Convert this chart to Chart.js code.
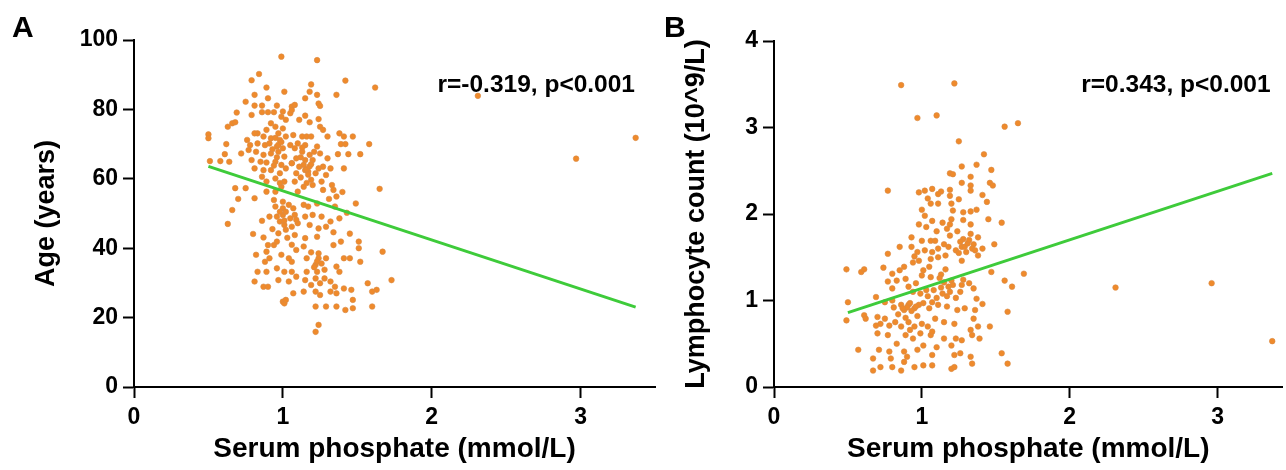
<!DOCTYPE html>
<html>
<head>
<meta charset="utf-8">
<script src="https://cdn.jsdelivr.net/npm/chart.js@4.4.1/dist/chart.umd.min.js"></script>
<style>
    html, body { margin: 0; padding: 0; background: #fff; }
    #wrap { position: relative; width: 1286px; height: 470px; overflow: hidden; }
    .panel { position: absolute; top: 0; height: 470px; }
    #pa { left: 0; width: 660px; }
    #pb { left: 660px; width: 626px; }
    .tag { position: absolute; font: bold 30px "Liberation Sans", Arial, sans-serif; line-height: 1; color: #000; }
</style>
</head>
<body>
<div id="wrap">
    <div class="panel" id="pa"><canvas id="chartA"></canvas></div>
    <div class="panel" id="pb"><canvas id="chartB"></canvas></div>
    <div class="tag" style="left:12px;top:12px">A</div>
    <div class="tag" style="left:664px;top:12px">B</div>
</div>
<script>
// Valores (fósforo sérico em mmol/L)
const xTicks = [0, 1, 2, 3];
const ageTicks = [0, 20, 40, 60, 80, 100];
const lymphTicks = [0, 1, 2, 3, 4];

// Painel A: fósforo x idade
const agePoints = [
    [0.99,95.2],[0.84,90.2],[0.79,88.4],[0.89,86.3],[0.81,84.2],[1.01,85.1],[0.90,83.2],[0.75,82.2],[0.81,81.1],[0.86,81.1],
    [0.96,81.1],[1.06,80.8],[0.69,79.1],[0.79,78.4],[0.86,79.2],[0.90,79.2],[0.94,79.2],[1.00,79.4],[0.99,77.9],[1.02,77.0],
    [1.05,78.9],[0.66,76.0],[0.68,76.3],[0.63,75.0],[0.92,76.0],[0.95,75.0],[1.00,74.5],[0.89,74.1],[0.83,73.1],[0.97,73.1],
    [0.50,72.8],[0.50,71.7],[0.81,73.1],[0.87,72.2],[0.92,71.7],[0.98,71.2],[1.02,72.2],[0.62,70.0],[0.76,71.2],[0.78,69.7],
    [0.83,70.2],[0.88,69.7],[0.91,70.2],[0.96,69.3],[1.00,68.8],[1.05,69.7],[0.72,67.3],[0.77,68.3],[0.82,67.8],[0.87,66.9],
    [0.92,67.3],[0.97,67.8],[1.01,66.4],[0.61,67.1],[0.58,65.1],[0.64,64.9],[0.51,65.1],[0.79,65.4],[0.85,64.9],[0.89,64.7],
    [0.95,64.9],[0.99,64.0],[1.06,64.5],[0.81,63.0],[0.87,62.5],[0.92,62.5],[0.98,61.6],[1.02,63.0],[0.86,60.6],[0.89,59.2],
    [0.95,60.1],[1.01,59.2],[0.68,57.3],[0.75,57.3],[0.89,56.3],[0.95,56.3],[0.99,57.7],[0.70,54.2],[0.81,54.4],[0.94,53.9],
    [1.00,53.4],
    [1.23,94.2],[1.42,88.3],[1.62,86.3],[1.36,84.2],[1.19,87.2],[1.18,85.1],[1.23,84.2],[1.15,83.2],[1.24,81.7],[1.25,81.0],
    [1.08,81.3],[1.06,79.8],[1.11,77.0],[1.15,78.2],[1.18,76.3],[1.24,77.2],[1.25,75.0],[1.27,74.1],[1.30,72.2],[1.38,73.1],
    [1.41,72.2],[1.47,72.2],[1.39,70.0],[1.42,70.0],[1.58,70.0],[1.07,72.6],[1.13,72.2],[1.16,72.2],[1.19,72.2],[1.10,70.2],
    [1.15,69.7],[1.23,69.3],[1.08,68.8],[1.13,67.8],[1.18,66.9],[1.25,67.3],[1.37,67.1],[1.44,67.1],[1.52,67.1],[1.30,65.9],
    [1.09,65.9],[1.15,65.4],[1.20,65.4],[1.06,64.5],[1.11,63.5],[1.15,62.5],[1.17,62.1],[1.27,63.5],[1.32,63.0],[1.41,63.0],
    [1.09,61.6],[1.22,61.6],[1.29,61.1],[1.08,59.2],[1.19,59.7],[1.20,58.2],[1.33,58.2],[1.14,57.7],[1.27,56.8],[1.34,56.8],
    [1.10,56.3],[1.65,57.1],[1.49,52.9],[1.36,54.9],
    [0.66,51.0],[0.63,47.0],[0.86,47.9],[0.91,49.1],[0.96,49.1],[0.98,47.7],[0.95,52.0],[1.00,51.5],[1.04,52.5],[1.00,49.6],
    [1.05,48.6],[1.01,46.7],[1.06,46.2],[0.80,44.1],[0.87,43.1],[0.97,44.3],[1.02,45.3],[0.90,40.9],[0.94,40.9],[0.82,38.1],
    [0.89,39.0],[0.96,41.9],[0.91,37.1],[0.88,36.1],[1.04,37.1],[1.06,36.1],[0.99,38.1],[0.96,34.2],[1.01,33.2],[1.06,33.2],
    [0.83,33.2],[0.89,33.2],[0.97,30.8],[1.04,30.4],[0.81,30.4],[0.87,28.9],[0.90,28.9],[1.00,24.6],[1.01,24.1],[1.02,25.1],
    [1.14,52.5],[1.07,51.5],[1.17,52.0],[1.23,52.9],[1.35,52.0],[1.08,49.6],[1.10,47.2],[1.15,49.1],[1.20,49.6],[1.26,49.1],
    [1.32,47.7],[1.38,48.6],[1.18,46.7],[1.24,45.7],[1.29,46.2],[1.08,43.8],[1.15,42.9],[1.23,43.3],[1.34,40.9],[1.39,41.9],
    [1.51,41.9],[1.51,40.0],[1.67,39.0],[1.09,39.5],[1.14,40.5],[1.24,38.5],[1.24,37.1],[1.16,37.1],[1.29,37.1],[1.41,37.1],
    [1.45,37.1],[1.52,36.1],[1.22,35.2],[1.23,33.2],[1.36,34.7],[1.38,33.2],[1.16,33.2],[1.09,31.8],[1.15,30.8],[1.22,31.3],
    [1.28,31.3],[1.32,30.4],[1.35,28.9],[1.41,28.4],[1.25,29.9],[1.57,29.9],[1.60,27.5],[1.63,28.0],[1.46,28.0],[1.07,27.0],
    [1.14,27.5],[1.22,27.5],[1.32,27.5],[1.36,27.0],[1.22,23.2],[1.29,23.2],[1.36,23.2],[1.42,22.2],[1.47,25.1],[1.47,22.7],
    [1.60,23.2],[1.24,17.9],[1.22,15.9],
    [1.73,30.8],[2.31,83.9],[2.97,65.8],[3.37,71.8],
    [1.16,62.8],[1.18,63.6],[1.17,61.2],[0.97,69.8],[0.95,71.8],[1.21,34.5],[1.23,36.2],[1.02,50.5],[1.01,48.0],[1.12,66.2],
    [1.14,64.0],[0.93,68.5],[0.96,66.2],[0.99,70.6],[0.94,63.8],[0.98,58.8],[1.12,60.4],[1.19,64.2],[1.21,67.8],[1.13,69.0],
    [1.24,63.0],[1.16,58.8],[1.26,59.2],[0.98,50.5],[1.03,43.0],[1.06,41.0],[0.93,45.5],[1.09,48.2],[1.19,38.8],[1.26,35.6],
    [1.28,33.8],[1.19,29.4],[1.25,26.5],[1.31,54.2],[1.40,56.2],[1.43,50.2],[1.34,44.6],[1.45,44.2]
];
const ageFit = [[0.5, 63.6], [3.37, 23.0]];

// Painel B: fósforo x linfócitos
const lymphPoints = [
    [0.77,2.27],[0.98,2.25],[1.02,2.27],[1.07,2.29],[1.06,2.12],[1.00,2.05],[1.07,1.92],[0.98,1.88],[1.03,1.85],[0.93,1.73],
    [1.00,1.69],[1.06,1.69],[0.85,1.62],[0.93,1.62],[0.77,1.54],[0.97,1.56],[1.02,1.58],[0.95,1.51],
    [1.25,2.84],[1.42,2.69],[1.27,2.55],[1.37,2.57],[1.47,2.51],[1.19,2.47],[1.21,2.46],[1.33,2.43],[1.27,2.36],[1.33,2.33],
    [1.33,2.27],[1.46,2.36],[1.48,2.33],[1.13,2.26],[1.11,2.23],[1.19,2.28],[1.19,2.21],[1.41,2.22],[1.25,2.17],[1.44,2.14],
    [1.11,2.12],[1.20,2.12],[1.21,2.04],[1.33,2.03],[1.37,2.05],[1.28,2.02],[1.20,1.94],[1.28,1.93],[1.45,1.94],[1.54,1.90],
    [1.14,1.90],[1.19,1.88],[1.33,1.88],[1.17,1.83],[1.24,1.80],[1.33,1.77],[1.38,1.73],[1.19,1.75],[1.09,1.69],[1.15,1.65],
    [1.28,1.71],[1.35,1.65],[1.41,1.60],[1.49,1.65],[1.11,1.60],[1.18,1.62],[1.23,1.58],[1.27,1.62],[1.30,1.56],[1.34,1.60],
    [1.07,1.56],[1.16,1.52],[1.38,1.52],
    [0.49,1.36],[0.59,1.33],[0.61,1.36],[0.74,1.38],[0.80,1.31],[0.85,1.35],[0.88,1.39],[0.94,1.44],[0.98,1.46],[1.01,1.35],
    [1.05,1.39],[0.77,1.22],[0.83,1.23],[0.89,1.25],[0.96,1.20],[1.00,1.29],[1.06,1.27],[0.80,1.14],[0.50,0.98],[0.69,1.04],
    [0.75,0.98],[0.80,1.00],[0.86,0.95],[0.88,0.89],[0.91,0.95],[0.95,0.91],[0.98,0.95],[1.01,0.97],[1.05,0.91],[0.61,0.83],
    [0.62,0.79],[0.49,0.77],[0.70,0.81],[0.75,0.79],[0.72,0.73],[0.78,0.71],[0.69,0.71],[0.82,0.75],[0.86,0.70],[0.91,0.75],
    [0.95,0.70],[1.00,0.73],[1.04,0.70],[0.70,0.62],[0.77,0.60],[0.83,0.50],[0.89,0.60],[0.94,0.56],[0.99,0.62],[1.06,0.60],
    [0.57,0.43],[0.71,0.43],[0.78,0.41],[0.88,0.41],[0.90,0.35],[0.97,0.43],[1.01,0.48],[0.67,0.33],[0.79,0.33],[0.72,0.23],
    [0.80,0.23],[0.67,0.19],[0.86,0.19],[0.95,0.23],[1.01,0.25],[0.88,0.29],
    [1.06,1.48],[1.11,1.50],[1.27,1.46],[1.47,1.33],[1.56,1.23],[1.61,1.16],[1.69,1.31],[1.15,1.21],[1.20,1.23],[1.27,1.18],
    [1.32,1.20],[1.35,1.14],[1.08,1.12],[1.14,1.08],[1.19,1.10],[1.26,1.10],[1.37,1.02],[1.41,0.96],[1.58,0.87],[1.07,0.98],
    [1.11,0.95],[1.17,0.93],[1.24,0.89],[1.29,0.91],[1.36,0.89],[1.35,0.79],[1.09,0.79],[1.15,0.75],[1.22,0.73],[1.38,0.70],
    [1.46,0.70],[1.07,0.64],[1.15,0.56],[1.23,0.56],[1.27,0.54],[1.33,0.66],[1.34,0.60],[1.39,0.56],[1.20,0.48],[1.10,0.46],
    [1.07,0.37],[1.22,0.37],[1.26,0.39],[1.33,0.35],[1.54,0.39],[1.34,0.27],[1.58,0.27],[1.07,0.25],[1.20,0.21],[1.22,0.23],
    [0.86,3.49],[1.22,3.51],[0.97,3.11],[1.10,3.14],[1.56,3.01],[1.65,3.05],[2.31,1.15],[2.96,1.20],[3.37,0.53],
    [0.90,0.92],[0.93,0.88],[0.96,0.93],[0.92,0.97],[0.87,0.91],[1.13,1.15],[1.17,1.05],[1.21,1.18],[1.29,1.62],[1.31,1.66],
    [1.26,1.68],[1.13,1.30],[1.16,1.36],[0.99,1.08],[1.03,1.12],
    [0.84,0.84],[0.89,0.80],[0.97,0.82],[0.92,0.66],[0.81,0.92],[1.12,1.26],[1.18,1.16],[1.23,1.03],[1.28,1.24],[1.10,1.03],
    [1.32,1.70],[1.25,1.55],[1.36,1.58],[0.94,1.10],[1.04,1.05],[0.91,1.16],[1.04,2.18],[1.10,1.80],[1.02,1.98]
];
const lymphFit = [[0.5, 0.86], [3.37, 2.47]];

const FONT = '"Liberation Sans", Arial, sans-serif';

// Texto com r e p no canto superior direito
const corrLabel = {
    id: 'corrLabel',
    afterDatasetsDraw(chart, args, opts) {
        const { ctx, chartArea } = chart;
        ctx.save();
        ctx.font = 'bold 24.5px ' + FONT;
        ctx.fillStyle = '#000';
        ctx.textAlign = 'right';
        ctx.textBaseline = 'middle';
        ctx.fillText(opts.text, chartArea.right - opts.dx, chartArea.top + opts.dy);
        ctx.restore();
    }
};

function toXY(list) {
    return list.map(([x, y]) => ({ x, y }));
}

function makePanel(canvasId, cfg) {
    const axisStyle = {
        grid: { display: true, drawOnChartArea: false, drawTicks: true, tickLength: 11, tickWidth: 2, tickColor: '#000' },
        border: { display: true, color: '#000', width: 2 }
    };
    return new Chart(document.getElementById(canvasId), {
        type: 'scatter',
        data: {
            datasets: [
                {
                    type: 'line',
                    data: toXY(cfg.fit),
                    borderColor: '#3ecb3a',
                    borderWidth: 3,
                    pointRadius: 0,
                    fill: false,
                    order: 0,
                    clip: false
                },
                {
                    data: toXY(cfg.points),
                    backgroundColor: '#ef8a2b',
                    borderColor: '#d98a45',
                    borderWidth: 0.6,
                    pointRadius: 2.8,
                    pointHoverRadius: 2.8,
                    order: 1,
                    clip: false
                }
            ]
        },
        options: {
            responsive: true,
            maintainAspectRatio: false,
            animation: false,
            events: [],
            layout: { padding: { left: 0, right: cfg.padRight, top: cfg.padTop, bottom: 0 } },
            plugins: {
                legend: { display: false },
                tooltip: { enabled: false },
                corrLabel: { text: cfg.label, dx: cfg.labelDx, dy: cfg.labelDy }
            },
            scales: {
                x: {
                    type: 'linear',
                    min: 0,
                    max: cfg.xMax,
                    afterBuildTicks: s => { s.ticks = xTicks.map(v => ({ value: v })); },
                    afterFit: s => { s.height = 83; },
                    ticks: { color: '#000', padding: 6, font: { family: FONT, size: 23, weight: 'bold' } },
                    title: {
                        display: true,
                        text: 'Serum phosphate (mmol/L)',
                        color: '#000',
                        padding: { top: 0, bottom: 4 },
                        font: { family: FONT, size: 28, weight: 'bold' }
                    },
                    ...axisStyle
                },
                y: {
                    type: 'linear',
                    min: 0,
                    max: cfg.yTicks[cfg.yTicks.length - 1],
                    afterBuildTicks: s => { s.ticks = cfg.yTicks.map(v => ({ value: v })); },
                    afterFit: s => { s.width = cfg.axisLeft; },
                    ticks: { color: '#000', padding: 5, font: { family: FONT, size: 23, weight: 'bold' } },
                    title: {
                        display: true,
                        text: cfg.yTitle,
                        color: '#000',
                        padding: { top: cfg.titlePad, bottom: 0 },
                        font: { family: FONT, size: 27, weight: 'bold' }
                    },
                    ...axisStyle
                }
            }
        },
        plugins: [corrLabel]
    });
}

makePanel('chartA', {
    points: agePoints, fit: ageFit, yTicks: ageTicks, xMax: 3.5,
    yTitle: 'Age (years)', label: 'r=-0.319, p<0.001',
    axisLeft: 134, padTop: 40, padRight: 5, titlePad: 30, labelDx: 20, labelDy: 45
});

makePanel('chartB', {
    points: lymphPoints, fit: lymphFit, yTicks: lymphTicks, xMax: 3.44,
    yTitle: 'Lymphocyte count (10^9/L)', label: 'r=0.343, p<0.001',
    axisLeft: 114, padTop: 41, padRight: 0, titlePad: 20, labelDx: 12, labelDy: 44
});
</script>
</body>
</html>
